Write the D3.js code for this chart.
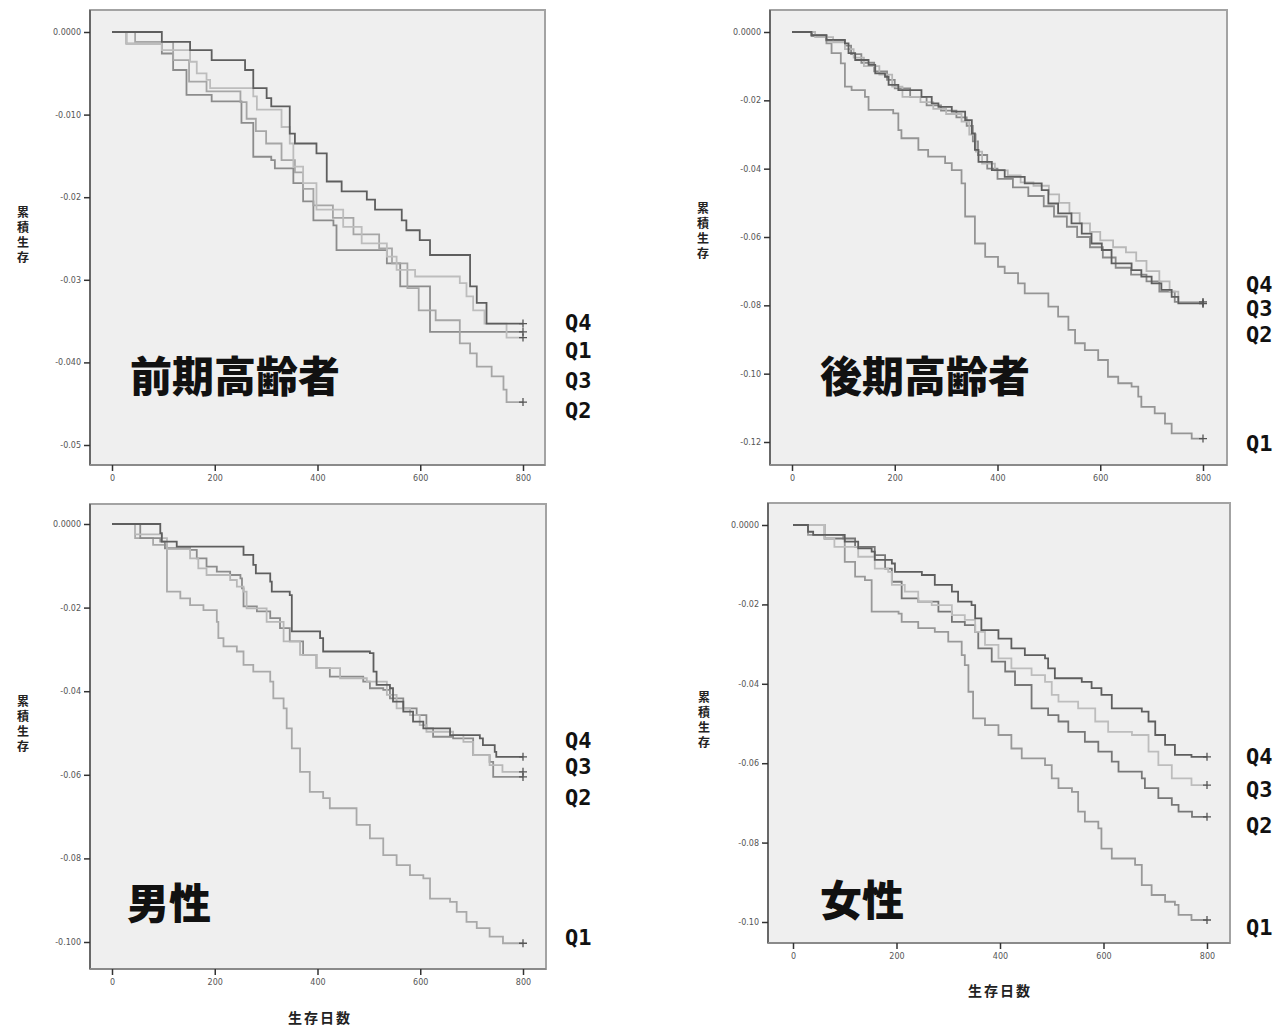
<!DOCTYPE html>
<html><head><meta charset="utf-8">
<script src="https://cdn.jsdelivr.net/npm/d3@7"></script>
<style>body{margin:0;background:#fff}svg{display:block}</style>
</head><body>
<svg id="c" width="1286" height="1028"></svg>
<script>
// ---------- data ----------
const xTicks = [0, 200, 400, 600, 800];
const quartiles = ["Q1", "Q2", "Q3", "Q4"];
const panelTitles = ["前期高齢者", "後期高齢者", "男性", "女性"];
const yAxisTitle = "累積生存";
const xAxisTitle = "生存日数";

const earlyYTicks = [0, -0.01, -0.02, -0.03, -0.04, -0.05];
const earlyYLabels = ["0.0000", "-0.010", "-0.02", "-0.03", "-0.040", "-0.05"];
const lateYTicks = [0, -0.02, -0.04, -0.06, -0.08, -0.10, -0.12];
const lateYLabels = ["0.0000", "-0.02", "-0.04", "-0.06", "-0.08", "-0.10", "-0.12"];
const maleYTicks = [0, -0.02, -0.04, -0.06, -0.08, -0.10];
const maleYLabels = ["0.0000", "-0.02", "-0.04", "-0.06", "-0.08", "-0.100"];
const femYTicks = [0, -0.02, -0.04, -0.06, -0.08, -0.10];
const femYLabels = ["0.0000", "-0.02", "-0.04", "-0.06", "-0.08", "-0.10"];

// 前期高齢者
const earlyQ1 = [[0,0],[28,-0.0014],[97,-0.0026],[119,-0.0046],[145,-0.0076],[194,-0.0084],[252,-0.0110],[275,-0.0151],[310,-0.0155],[317,-0.0165],[353,-0.0183],[372,-0.0205],[392,-0.0228],[431,-0.0234],[437,-0.0264],[535,-0.0280],[561,-0.0308],[619,-0.0363],[800,-0.0363]];
const earlyQ2 = [[0,0],[45,-0.0012],[119,-0.0034],[150,-0.0060],[184,-0.0072],[250,-0.0085],[262,-0.0105],[280,-0.0120],[300,-0.0135],[330,-0.0155],[356,-0.0170],[372,-0.0190],[392,-0.0210],[430,-0.0225],[470,-0.0245],[520,-0.0262],[545,-0.0280],[575,-0.0310],[597,-0.0337],[630,-0.0349],[677,-0.0377],[697,-0.0389],[710,-0.0405],[739,-0.0417],[762,-0.0433],[768,-0.0448],[800,-0.0448]];
const earlyQ3 = [[0,0],[28,-0.0014],[97,-0.0022],[152,-0.0036],[165,-0.0050],[184,-0.0058],[191,-0.0068],[275,-0.0078],[282,-0.0094],[330,-0.0115],[346,-0.0135],[353,-0.0163],[372,-0.0183],[398,-0.0215],[450,-0.0236],[486,-0.0256],[535,-0.0272],[554,-0.0288],[590,-0.0296],[677,-0.0304],[690,-0.0320],[703,-0.0337],[725,-0.0353],[768,-0.0370],[800,-0.0370]];
const earlyQ4 = [[0,0],[97,-0.0012],[152,-0.0022],[194,-0.0034],[259,-0.0046],[275,-0.0068],[301,-0.0080],[310,-0.0090],[346,-0.0123],[356,-0.0135],[398,-0.0147],[418,-0.0181],[447,-0.0193],[496,-0.0203],[512,-0.0215],[564,-0.0228],[573,-0.0240],[599,-0.0252],[619,-0.0270],[697,-0.0308],[710,-0.0328],[729,-0.0353],[800,-0.0353]];

// 後期高齢者
const lateQ1 = [[0,0],[38,-0.0009],[67,-0.0033],[77,-0.0062],[95,-0.0092],[103,-0.0160],[116,-0.0170],[142,-0.0190],[149,-0.0228],[197,-0.0238],[207,-0.0287],[213,-0.0311],[246,-0.0345],[265,-0.0365],[298,-0.0384],[311,-0.0404],[330,-0.0443],[337,-0.0540],[356,-0.0619],[376,-0.0658],[401,-0.0687],[414,-0.0706],[440,-0.0736],[453,-0.0765],[499,-0.0804],[518,-0.0833],[538,-0.0872],[551,-0.0911],[570,-0.0931],[596,-0.0960],[615,-0.1009],[635,-0.1028],[661,-0.1038],[674,-0.1067],[680,-0.1097],[706,-0.1116],[726,-0.1146],[739,-0.1175],[778,-0.1190],[800,-0.1190]];
const lateQ2 = [[0,0],[38,-0.0012],[67,-0.0025],[103,-0.0040],[115,-0.0065],[135,-0.0090],[160,-0.0115],[185,-0.0140],[200,-0.0165],[230,-0.0190],[262,-0.0215],[290,-0.0230],[320,-0.0250],[340,-0.0275],[352,-0.0320],[362,-0.0360],[380,-0.0400],[400,-0.0430],[430,-0.0455],[460,-0.0480],[490,-0.0510],[510,-0.0540],[535,-0.0570],[555,-0.0600],[580,-0.0630],[605,-0.0660],[630,-0.0690],[660,-0.0710],[690,-0.0730],[715,-0.0760],[745,-0.0790],[800,-0.0795]];
const lateQ3 = [[0,0],[45,-0.0015],[80,-0.0030],[103,-0.0050],[120,-0.0075],[140,-0.0100],[170,-0.0125],[195,-0.0160],[215,-0.0190],[250,-0.0205],[275,-0.0225],[300,-0.0240],[330,-0.0262],[345,-0.0300],[358,-0.0350],[370,-0.0385],[395,-0.0405],[420,-0.0420],[445,-0.0440],[470,-0.0450],[500,-0.0475],[520,-0.0500],[540,-0.0530],[560,-0.0560],[580,-0.0585],[600,-0.0610],[625,-0.0630],[650,-0.0645],[670,-0.0670],[690,-0.0700],[715,-0.0730],[735,-0.0760],[752,-0.0790],[800,-0.0790]];
const lateQ4 = [[0,0],[38,-0.0009],[67,-0.0023],[103,-0.0033],[110,-0.0062],[123,-0.0082],[149,-0.0096],[162,-0.0121],[181,-0.0131],[188,-0.0155],[207,-0.0170],[252,-0.0190],[272,-0.0209],[285,-0.0219],[311,-0.0233],[337,-0.0258],[350,-0.0297],[356,-0.0345],[363,-0.0380],[389,-0.0404],[414,-0.0424],[453,-0.0443],[486,-0.0463],[499,-0.0502],[518,-0.0531],[544,-0.0560],[564,-0.0590],[583,-0.0619],[603,-0.0638],[622,-0.0677],[661,-0.0697],[680,-0.0716],[700,-0.0736],[719,-0.0755],[739,-0.0775],[752,-0.0794],[800,-0.0794]];

// 男性
const maleQ1 = [[0,0],[45,-0.0034],[80,-0.0050],[107,-0.0162],[133,-0.0178],[152,-0.0194],[178,-0.0206],[204,-0.0234],[207,-0.0273],[217,-0.0293],[243,-0.0305],[256,-0.0337],[275,-0.0353],[308,-0.0377],[314,-0.0417],[334,-0.0441],[340,-0.0489],[350,-0.0537],[366,-0.0593],[385,-0.0641],[411,-0.0656],[424,-0.0680],[476,-0.0720],[502,-0.0752],[528,-0.0792],[554,-0.0816],[580,-0.0840],[606,-0.0848],[619,-0.0896],[658,-0.0904],[671,-0.0928],[690,-0.0952],[710,-0.0967],[735,-0.0987],[761,-0.1003],[800,-0.1003]];
const maleQ2 = [[0,0],[55,-0.0034],[94,-0.0042],[103,-0.0058],[152,-0.0062],[165,-0.0082],[184,-0.0102],[204,-0.0114],[230,-0.0122],[250,-0.0130],[253,-0.0154],[256,-0.0197],[282,-0.0209],[308,-0.0225],[327,-0.0249],[346,-0.0281],[372,-0.0313],[398,-0.0345],[424,-0.0365],[489,-0.0377],[502,-0.0393],[528,-0.0397],[541,-0.0417],[567,-0.0441],[593,-0.0457],[612,-0.0489],[625,-0.0509],[664,-0.0513],[703,-0.0553],[735,-0.0569],[742,-0.0605],[800,-0.0605]];
const maleQ3 = [[0,0],[45,-0.0025],[97,-0.0034],[107,-0.0060],[152,-0.0082],[168,-0.0106],[184,-0.0122],[230,-0.0134],[243,-0.0150],[256,-0.0162],[262,-0.0202],[301,-0.0234],[334,-0.0281],[366,-0.0313],[398,-0.0345],[444,-0.0369],[496,-0.0377],[535,-0.0409],[554,-0.0441],[580,-0.0457],[599,-0.0481],[612,-0.0497],[664,-0.0505],[684,-0.0521],[703,-0.0553],[735,-0.0577],[760,-0.0593],[800,-0.0593]];
const maleQ4 = [[0,0],[94,-0.0022],[97,-0.0042],[126,-0.0054],[256,-0.0074],[275,-0.0098],[280,-0.0118],[308,-0.0138],[311,-0.0162],[346,-0.0170],[350,-0.0257],[405,-0.0273],[411,-0.0305],[502,-0.0309],[509,-0.0353],[515,-0.0385],[541,-0.0393],[547,-0.0425],[567,-0.0449],[586,-0.0473],[606,-0.0489],[658,-0.0505],[716,-0.0513],[722,-0.0529],[745,-0.0545],[748,-0.0557],[800,-0.0557]];

// 女性
const femQ1 = [[0,0],[29,-0.0025],[97,-0.0034],[100,-0.0093],[120,-0.0130],[139,-0.0139],[152,-0.0218],[204,-0.0223],[210,-0.0244],[242,-0.0260],[274,-0.0269],[300,-0.0294],[326,-0.0328],[332,-0.0353],[339,-0.0420],[348,-0.0487],[371,-0.0504],[397,-0.0529],[422,-0.0563],[442,-0.0588],[487,-0.0605],[500,-0.0638],[513,-0.0663],[539,-0.0672],[551,-0.0722],[564,-0.0747],[590,-0.0764],[596,-0.0815],[616,-0.0840],[661,-0.0856],[674,-0.0907],[693,-0.0932],[719,-0.0949],[738,-0.0957],[745,-0.0982],[770,-0.0995],[800,-0.0995]];
const femQ2 = [[0,0],[61,-0.0034],[120,-0.0055],[158,-0.0076],[178,-0.0110],[191,-0.0143],[210,-0.0185],[242,-0.0193],[281,-0.0218],[307,-0.0244],[332,-0.0252],[352,-0.0269],[358,-0.0311],[384,-0.0344],[410,-0.0369],[429,-0.0403],[461,-0.0462],[493,-0.0479],[513,-0.0495],[532,-0.0521],[564,-0.0546],[590,-0.0571],[616,-0.0596],[629,-0.0621],[674,-0.0638],[680,-0.0663],[706,-0.0688],[732,-0.0705],[745,-0.0722],[771,-0.0735],[800,-0.0735]];
const femQ3 = [[0,0],[61,-0.0034],[80,-0.0055],[126,-0.0080],[158,-0.0110],[184,-0.0118],[191,-0.0151],[216,-0.0168],[242,-0.0193],[268,-0.0202],[307,-0.0227],[332,-0.0239],[352,-0.0269],[371,-0.0302],[397,-0.0336],[422,-0.0361],[461,-0.0378],[487,-0.0395],[500,-0.0428],[513,-0.0445],[551,-0.0462],[584,-0.0495],[609,-0.0521],[655,-0.0529],[687,-0.0571],[706,-0.0605],[732,-0.0638],[770,-0.0655],[800,-0.0655]];
const femQ4 = [[0,0],[29,-0.0017],[39,-0.0025],[100,-0.0042],[126,-0.0059],[152,-0.0067],[158,-0.0088],[191,-0.0097],[197,-0.0118],[249,-0.0126],[274,-0.0151],[307,-0.0168],[319,-0.0193],[345,-0.0202],[352,-0.0235],[364,-0.0265],[397,-0.0286],[422,-0.0311],[448,-0.0328],[487,-0.0336],[493,-0.0361],[506,-0.0386],[558,-0.0395],[577,-0.0411],[596,-0.0428],[616,-0.0462],[674,-0.0470],[687,-0.0495],[700,-0.0529],[719,-0.0554],[738,-0.0579],[770,-0.0584],[800,-0.0584]];

// ---------- layout ----------
const panels = [
  {title: panelTitles[0], series: [earlyQ1, earlyQ2, earlyQ3, earlyQ4], yTicks: earlyYTicks, yLabels: earlyYLabels,
   frame: {x: 90, y: 10, w: 455, h: 455}, xr: [112, 523], yr: [32, 445],
   colors: ["#8c8c8c", "#a6a6a6", "#bdbdbd", "#5e5e5e"],
   qOrder: ["Q4", "Q1", "Q3", "Q2"], qY: [322, 350, 380, 410], qX: 565,
   titleX: 130, titleY: 373, yTitleX: 23, yTitleY: 236, xTitle: false},
  {title: panelTitles[1], series: [lateQ1, lateQ2, lateQ3, lateQ4], yTicks: lateYTicks, yLabels: lateYLabels,
   frame: {x: 770, y: 10, w: 457, h: 455}, xr: [792, 1203], yr: [32, 442],
   colors: ["#959595", "#8a8a8a", "#b8b8b8", "#5e5e5e"],
   qOrder: ["Q4", "Q3", "Q2", "Q1"], qY: [284, 308, 334, 443], qX: 1246,
   titleX: 820, titleY: 373, yTitleX: 703, yTitleY: 232, xTitle: false},
  {title: panelTitles[2], series: [maleQ1, maleQ2, maleQ3, maleQ4], yTicks: maleYTicks, yLabels: maleYLabels,
   frame: {x: 90, y: 504, w: 456, h: 465}, xr: [112, 523], yr: [524, 942],
   colors: ["#a9a9a9", "#8c8c8c", "#b8b8b8", "#5e5e5e"],
   qOrder: ["Q4", "Q3", "Q2", "Q1"], qY: [740, 766, 797, 937], qX: 565,
   titleX: 127, titleY: 900, yTitleX: 23, yTitleY: 725, xTitle: true, xTitleX: 320, xTitleY: 1017},
  {title: panelTitles[3], series: [femQ1, femQ2, femQ3, femQ4], yTicks: femYTicks, yLabels: femYLabels,
   frame: {x: 768, y: 503, w: 462, h: 440}, xr: [793, 1207], yr: [525, 922],
   colors: ["#999999", "#777777", "#bdbdbd", "#5e5e5e"],
   qOrder: ["Q4", "Q3", "Q2", "Q1"], qY: [756, 789, 825, 927], qX: 1246,
   titleX: 820, titleY: 897, yTitleX: 704, yTitleY: 721, xTitle: true, xTitleX: 1000, xTitleY: 990}
];

const svg = d3.select("#c");
const tickFont = "'DejaVu Sans', sans-serif";
const cjkFont = "'Noto Sans CJK JP', sans-serif";

panels.forEach(p => {
  const g = svg.append("g");
  const f = p.frame;
  const x = d3.scaleLinear().domain([xTicks[0], xTicks[xTicks.length - 1]]).range(p.xr);
  const y = d3.scaleLinear().domain([p.yTicks[0], p.yTicks[p.yTicks.length - 1]]).range(p.yr);

  // plot background + frame
  g.append("rect").attr("x", f.x).attr("y", f.y).attr("width", f.w).attr("height", f.h)
    .attr("fill", "#efefef").attr("stroke", "#a3a3a3").attr("stroke-width", 2);

  // axes
  const yAxis = d3.axisLeft(y).tickValues(p.yTicks).tickSize(6).tickPadding(3)
    .tickFormat((d, i) => p.yLabels[i]);
  const ya = g.append("g").attr("transform", `translate(${f.x},0)`).call(yAxis);
  ya.select(".domain").attr("stroke", "#555").attr("stroke-width", 1.5)
    .attr("d", `M0,${f.y}V${f.y + f.h}`);
  ya.selectAll(".tick line").attr("stroke", "#333").attr("stroke-width", 1.5);
  ya.selectAll(".tick text").attr("font-family", tickFont).attr("font-size", 8).attr("fill", "#555");

  const xAxis = d3.axisBottom(x).tickValues(xTicks).tickSize(6).tickPadding(4).tickFormat(d3.format("d"));
  const xa = g.append("g").attr("transform", `translate(0,${f.y + f.h})`).call(xAxis);
  xa.select(".domain").attr("stroke", "#8a8a8a").attr("stroke-width", 2)
    .attr("d", `M${f.x},0H${f.x + f.w}`);
  xa.selectAll(".tick line").attr("stroke", "#333").attr("stroke-width", 1.5);
  xa.selectAll(".tick text").attr("font-family", tickFont).attr("font-size", 8).attr("fill", "#555");

  // survival step curves
  const line = d3.line().x(d => x(d[0])).y(d => y(d[1])).curve(d3.curveStepAfter);
  p.series.forEach((s, i) => {
    g.append("path").datum(s).attr("d", line).attr("fill", "none")
      .attr("stroke", p.colors[i]).attr("stroke-width", 1.8);
    const last = s[s.length - 1];
    const cx = x(last[0]), cy = y(last[1]);
    g.append("path").attr("d", `M${cx - 4},${cy}H${cx + 4}M${cx},${cy - 4}V${cy + 4}`)
      .attr("stroke", "#555").attr("stroke-width", 1.3);
  });

  // panel title
  g.append("text").attr("x", p.titleX).attr("y", p.titleY).attr("dominant-baseline", "central")
    .attr("font-family", cjkFont).attr("font-weight", 900).attr("font-size", 42)
    .attr("fill", "#111").text(p.title);

  // quartile labels
  p.qOrder.forEach((q, i) => {
    g.append("text").attr("x", p.qX).attr("y", p.qY[i]).attr("dominant-baseline", "central")
      .attr("font-family", "'DejaVu Sans Mono', monospace").attr("font-weight", "bold")
      .attr("font-size", 22).attr("fill", "#111").text(q);
  });

  // y-axis title (vertical, upright characters)
  g.append("text").attr("x", p.yTitleX).attr("y", p.yTitleY)
    .attr("text-anchor", "middle")
    .style("writing-mode", "vertical-rl").style("text-orientation", "upright")
    .style("letter-spacing", "3px")
    .attr("font-family", cjkFont).attr("font-weight", "bold").attr("font-size", 12)
    .attr("fill", "#222").text(yAxisTitle);

  if (p.xTitle) {
    g.append("text").attr("x", p.xTitleX).attr("y", p.xTitleY).attr("text-anchor", "middle")
      .attr("dominant-baseline", "central").attr("font-family", cjkFont).attr("font-weight", "bold")
      .attr("font-size", 14).attr("letter-spacing", 2).attr("fill", "#222").text(xAxisTitle);
  }
});
</script>
</body></html>
